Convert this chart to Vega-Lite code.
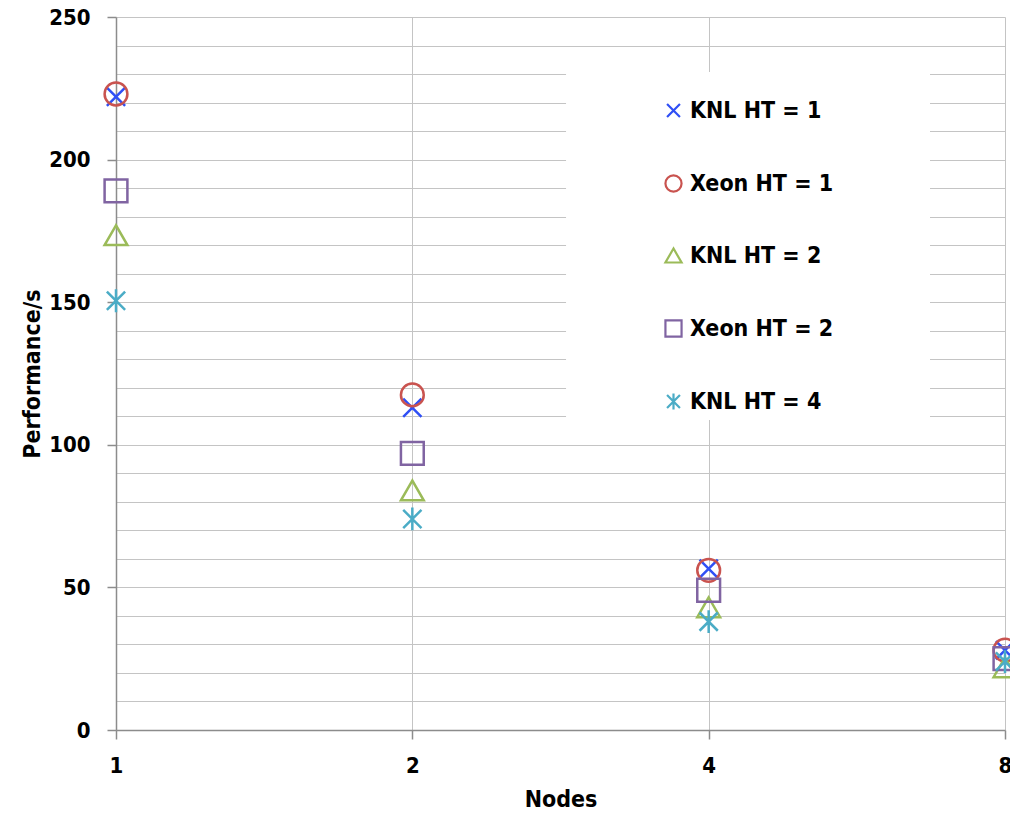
{
  "$schema": "https://vega.github.io/schema/vega-lite/v6.json",
  "width": 889,
  "height": 713,
  "autosize": {"type": "none"},
  "padding": {"left": 116, "top": 17, "right": 5, "bottom": 83},
  "background": "white",
  "config": {
    "view": {"stroke": null},
    "font": "DejaVu Sans Condensed",
    "axis": {
      "labelFont": "DejaVu Sans Condensed",
      "titleFont": "DejaVu Sans Condensed",
      "labelFontWeight": "bold",
      "titleFontWeight": "bold",
      "labelColor": "black",
      "titleColor": "black",
      "labelFontSize": 22,
      "titleFontSize": 23,
      "domainColor": "#8c8c8c",
      "domainWidth": 1.5,
      "tickColor": "#8c8c8c",
      "tickWidth": 1.5,
      "tickSize": 9,
      "grid": true,
      "gridColor": "#c4c4c4",
      "gridWidth": 1
    }
  },
  "data": {
    "values": [
      {"nodes": 1, "series": "KNL HT = 1", "perf": 222},
      {"nodes": 2, "series": "KNL HT = 1", "perf": 113},
      {"nodes": 4, "series": "KNL HT = 1", "perf": 56.5},
      {"nodes": 8, "series": "KNL HT = 1", "perf": 28},
      {"nodes": 1, "series": "Xeon HT = 1", "perf": 223},
      {"nodes": 2, "series": "Xeon HT = 1", "perf": 117.5},
      {"nodes": 4, "series": "Xeon HT = 1", "perf": 56},
      {"nodes": 8, "series": "Xeon HT = 1", "perf": 28},
      {"nodes": 1, "series": "KNL HT = 2", "perf": 173.5},
      {"nodes": 2, "series": "KNL HT = 2", "perf": 84},
      {"nodes": 4, "series": "KNL HT = 2", "perf": 43},
      {"nodes": 8, "series": "KNL HT = 2", "perf": 22},
      {"nodes": 1, "series": "Xeon HT = 2", "perf": 189},
      {"nodes": 2, "series": "Xeon HT = 2", "perf": 97},
      {"nodes": 4, "series": "Xeon HT = 2", "perf": 49},
      {"nodes": 8, "series": "Xeon HT = 2", "perf": 25},
      {"nodes": 1, "series": "KNL HT = 4", "perf": 150.5},
      {"nodes": 2, "series": "KNL HT = 4", "perf": 74},
      {"nodes": 4, "series": "KNL HT = 4", "perf": 38},
      {"nodes": 8, "series": "KNL HT = 4", "perf": 24}
    ]
  },
  "layer": [
    {
      "mark": {"type": "rect", "fill": "white", "stroke": null},
      "encoding": {
        "x": {
          "datum": 2.87,
          "type": "quantitative",
          "scale": {"type": "log", "base": 2, "domain": [1, 8], "nice": false},
          "axis": {
            "values": [1, 2, 4, 8],
            "format": "d",
            "title": "Nodes",
            "grid": true,
            "labelPadding": 16,
            "titlePadding": 12,
            "labelFlush": false
          }
        },
        "x2": {"datum": 6.71},
        "y": {
          "datum": 230.7,
          "type": "quantitative",
          "scale": {"domain": [0, 250], "nice": false},
          "axis": {
            "values": [0, 10, 20, 30, 40, 50, 60, 70, 80, 90, 100, 110, 120, 130, 140, 150, 160, 170, 180, 190, 200, 210, 220, 230, 240, 250],
            "labelExpr": "datum.value % 50 === 0 ? datum.label : ''",
            "tickColor": {"condition": {"test": "datum.value % 50 === 0", "value": "#8c8c8c"}, "value": "transparent"},
            "title": "Performance/s",
            "grid": true,
            "labelPadding": 17,
            "titlePadding": 4
          }
        },
        "y2": {"datum": 108.7}
      }
    },
    {
      "mark": {"type": "point", "filled": false, "strokeWidth": 2.5, "size": 520, "opacity": 1},
      "encoding": {
        "x": {
          "field": "nodes",
          "type": "quantitative",
          "scale": {"type": "log", "base": 2, "domain": [1, 8], "nice": false},
          "axis": {
            "values": [1, 2, 4, 8],
            "format": "d",
            "title": "Nodes",
            "grid": true,
            "labelPadding": 16,
            "titlePadding": 12,
            "labelFlush": false
          }
        },
        "y": {
          "field": "perf",
          "type": "quantitative",
          "scale": {"domain": [0, 250], "nice": false},
          "axis": {
            "values": [0, 10, 20, 30, 40, 50, 60, 70, 80, 90, 100, 110, 120, 130, 140, 150, 160, 170, 180, 190, 200, 210, 220, 230, 240, 250],
            "labelExpr": "datum.value % 50 === 0 ? datum.label : ''",
            "tickColor": {"condition": {"test": "datum.value % 50 === 0", "value": "#8c8c8c"}, "value": "transparent"},
            "title": "Performance/s",
            "grid": true,
            "labelPadding": 17,
            "titlePadding": 4
          }
        },
        "color": {
          "field": "series",
          "type": "nominal",
          "scale": {
            "domain": ["KNL HT = 1", "Xeon HT = 1", "KNL HT = 2", "Xeon HT = 2", "KNL HT = 4"],
            "range": ["#2f4ff5", "#c9534f", "#9bbb59", "#8064a2", "#4bacc6"]
          },
          "legend": {
            "title": null,
            "orient": "none",
            "legendX": 546,
            "legendY": 82,
            "padding": 0,
            "labelFont": "DejaVu Sans Condensed",
            "labelFontWeight": "bold",
            "labelFontSize": 23,
            "labelColor": "black",
            "labelOffset": 5,
            "rowPadding": 48,
            "symbolSize": 260,
            "symbolStrokeWidth": 2.2,
            "symbolType": "circle"
          }
        },
        "shape": {
          "field": "series",
          "type": "nominal",
          "scale": {
            "domain": ["KNL HT = 1", "Xeon HT = 1", "KNL HT = 2", "Xeon HT = 2", "KNL HT = 4"],
            "range": ["M-0.8,-0.8L0.8,0.8M0.8,-0.8L-0.8,0.8", "circle", "triangle-up", "square", "M-0.8,-0.8L0.8,0.8M0.8,-0.8L-0.8,0.8M0,-1L0,1"]
          },
          "legend": null
        }
      }
    }
  ]
}
